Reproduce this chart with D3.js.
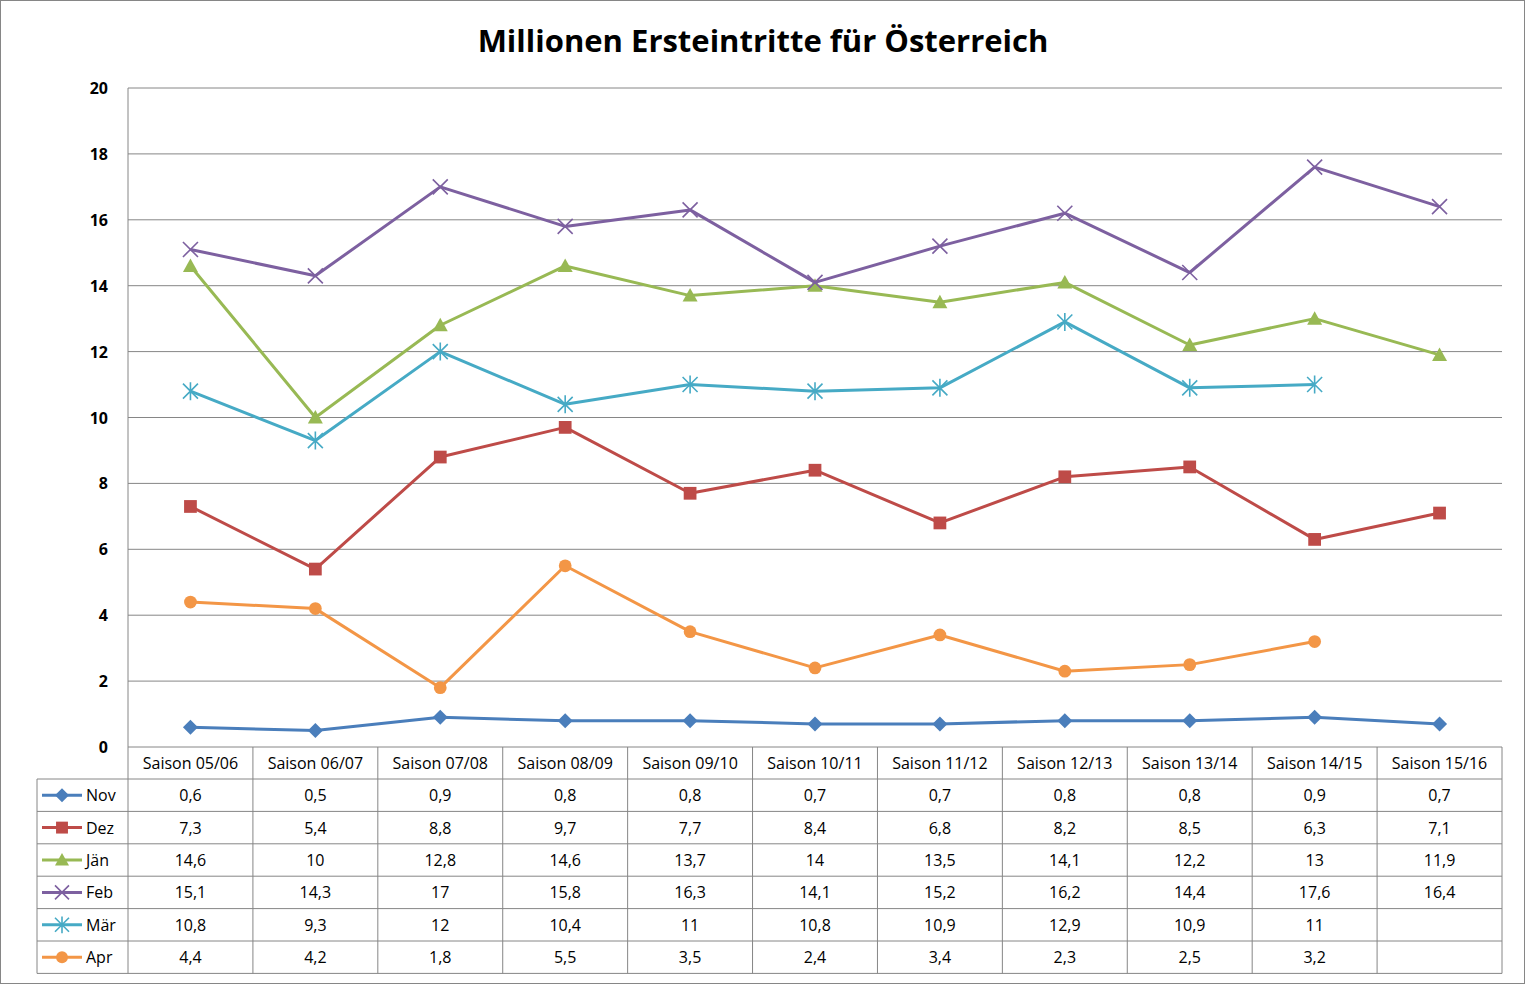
<!DOCTYPE html>
<html lang="de">
<head>
<meta charset="UTF-8">
<script src="https://d3js.org/d3.v7.min.js"></script>
<style>
  body { margin: 0; background: #fff; font-family: "Open Sans", Arial, sans-serif; }
</style>
</head>
<body>
<svg id="chart" width="1526" height="985"></svg>
<script>
// Data
const seasons = ["Saison 05/06","Saison 06/07","Saison 07/08","Saison 08/09","Saison 09/10","Saison 10/11","Saison 11/12","Saison 12/13","Saison 13/14","Saison 14/15","Saison 15/16"];
const nov = [0.6,0.5,0.9,0.8,0.8,0.7,0.7,0.8,0.8,0.9,0.7];
const dez = [7.3,5.4,8.8,9.7,7.7,8.4,6.8,8.2,8.5,6.3,7.1];
const jaen = [14.6,10,12.8,14.6,13.7,14,13.5,14.1,12.2,13,11.9];
const feb = [15.1,14.3,17,15.8,16.3,14.1,15.2,16.2,14.4,17.6,16.4];
const maer = [10.8,9.3,12,10.4,11,10.8,10.9,12.9,10.9,11,null];
const apr = [4.4,4.2,1.8,5.5,3.5,2.4,3.4,2.3,2.5,3.2,null];
const yTicks = [0,2,4,6,8,10,12,14,16,18,20];

const series = [
  {name:"Nov", values:nov, color:"#4a7ebb", marker:"diamond"},
  {name:"Dez", values:dez, color:"#be4b48", marker:"square"},
  {name:"Jän", values:jaen, color:"#98b954", marker:"triangle"},
  {name:"Feb", values:feb, color:"#7d60a0", marker:"x"},
  {name:"Mär", values:maer, color:"#46aac5", marker:"star"},
  {name:"Apr", values:apr, color:"#f39646", marker:"circle"}
];

const svg = d3.select("#chart");
const plotLeft = 128, plotRight = 1502, plotTop = 88, plotBottom = 747;
const tableLeft = 37, headerH = 32, rowH = 32.4;

svg.append("rect").attr("x",0.5).attr("y",0.5).attr("width",1524).attr("height",983)
  .attr("fill","#fff").attr("stroke","#868686");

svg.append("text").attr("x",763).attr("y",52).attr("text-anchor","middle")
  .attr("font-size",31).attr("font-weight","bold").attr("fill","#000")
  .text("Millionen Ersteintritte für Österreich");

const x = d3.scaleBand().domain(seasons).range([plotLeft,plotRight]);
const y = d3.scaleLinear().domain([0,20]).range([plotBottom,plotTop]);

// gridlines
svg.append("g").selectAll("line").data(yTicks.filter(t=>t>0)).join("line")
  .attr("x1",plotLeft).attr("x2",plotRight).attr("y1",d=>y(d)).attr("y2",d=>y(d))
  .attr("stroke","#868686").attr("stroke-width",1);
svg.append("line").attr("x1",plotLeft).attr("x2",plotLeft).attr("y1",plotTop).attr("y2",plotBottom).attr("stroke","#868686");

svg.append("g").selectAll("text").data(yTicks).join("text")
  .attr("x",108).attr("y",d=>y(d)+6).attr("text-anchor","end")
  .attr("font-size",16).attr("font-weight","bold").text(d=>d);

// table
const rows = series.length;
const tableBottom = plotBottom + headerH + rows*rowH;
const tg = svg.append("g").attr("stroke","#868686").attr("fill","none");
tg.append("line").attr("x1",plotLeft).attr("x2",plotRight).attr("y1",plotBottom).attr("y2",plotBottom);
for (let i=0;i<=rows;i++){
  const yy = plotBottom+headerH+i*rowH;
  tg.append("line").attr("x1",tableLeft).attr("x2",plotRight).attr("y1",yy).attr("y2",yy);
}
tg.append("line").attr("x1",tableLeft).attr("x2",tableLeft).attr("y1",plotBottom+headerH).attr("y2",tableBottom);
seasons.forEach(s=>{
  tg.append("line").attr("x1",x(s)).attr("x2",x(s)).attr("y1",plotBottom).attr("y2",tableBottom);
});
tg.append("line").attr("x1",plotRight).attr("x2",plotRight).attr("y1",plotBottom).attr("y2",tableBottom);

svg.append("g").selectAll("text").data(seasons).join("text")
  .attr("x",d=>x(d)+x.bandwidth()/2).attr("y",plotBottom+headerH/2+6)
  .attr("text-anchor","middle").attr("font-size",16).text(d=>d);

const fmt = v => v==null ? "" : String(v).replace(".",",");

function marker(g, type, color, s){
  if (type==="diamond") g.append("path").attr("d",`M0,${-s}L${s},0L0,${s}L${-s},0Z`).attr("fill",color);
  else if (type==="square") g.append("rect").attr("x",-s*0.85).attr("y",-s*0.85).attr("width",s*1.7).attr("height",s*1.7).attr("fill",color);
  else if (type==="triangle") g.append("path").attr("d",`M0,${-s}L${s},${s*0.8}L${-s},${s*0.8}Z`).attr("fill",color);
  else if (type==="circle") g.append("circle").attr("r",s*0.85).attr("fill",color);
  else if (type==="x") g.append("path").attr("d",`M${-s},${-s}L${s},${s}M${-s},${s}L${s},${-s}`).attr("stroke",color).attr("stroke-width",1.6);
  else if (type==="star") g.append("path").attr("d",`M${-s},${-s}L${s},${s}M${-s},${s}L${s},${-s}M0,${-s*1.2}L0,${s*1.2}`).attr("stroke",color).attr("stroke-width",1.6);
}

series.forEach((sr,i)=>{
  const cy = plotBottom+headerH+i*rowH+rowH/2;
  svg.append("line").attr("x1",42).attr("x2",82).attr("y1",cy).attr("y2",cy)
    .attr("stroke",sr.color).attr("stroke-width",3);
  marker(svg.append("g").attr("transform",`translate(62,${cy})`), sr.marker, sr.color, 7);
  svg.append("text").attr("x",86).attr("y",cy+6).attr("font-size",16).text(sr.name);
  svg.append("g").selectAll("text").data(sr.values).join("text")
    .attr("x",(d,j)=>x(seasons[j])+x.bandwidth()/2).attr("y",cy+6)
    .attr("text-anchor","middle").attr("font-size",16).text(fmt);
});

const line = d3.line().defined(d=>d.v!=null).x(d=>x(d.s)+x.bandwidth()/2).y(d=>y(d.v));
series.forEach(sr=>{
  const pts = sr.values.map((v,j)=>({s:seasons[j],v}));
  svg.append("path").datum(pts).attr("d",line).attr("fill","none")
    .attr("stroke",sr.color).attr("stroke-width",3).attr("stroke-linejoin","round");
  pts.filter(p=>p.v!=null).forEach(p=>{
    marker(svg.append("g").attr("transform",`translate(${x(p.s)+x.bandwidth()/2},${y(p.v)})`), sr.marker, sr.color, 7.5);
  });
});
</script>
</body>
</html>
